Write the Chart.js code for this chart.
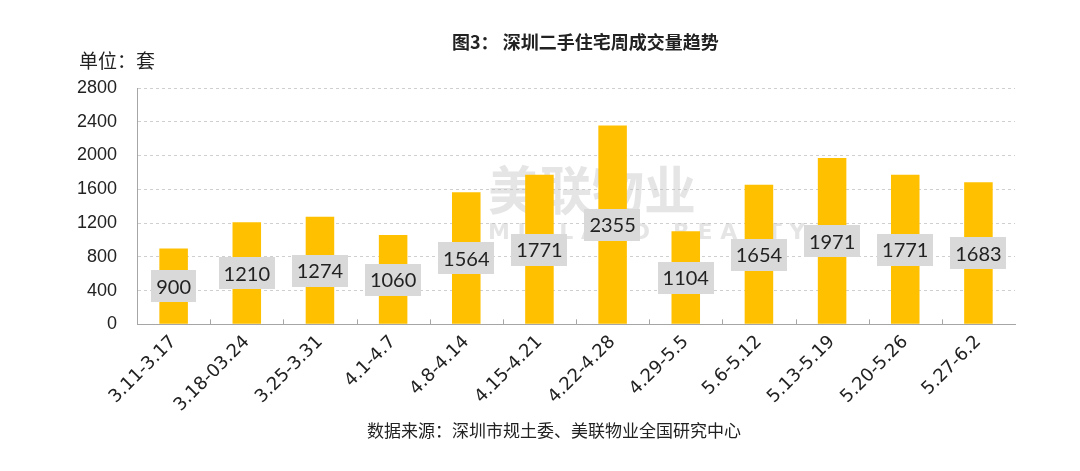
<!DOCTYPE html>
<html><head><meta charset="utf-8">
<script src="https://cdn.jsdelivr.net/npm/chart.js@4/dist/chart.umd.min.js"></script>
<style>
html,body{margin:0;padding:0;background:#fff;width:1080px;height:471px;overflow:hidden;}
#wrap{position:absolute;left:0;top:0;width:1080px;height:471px;}
.t{position:absolute;font-family:"Noto Sans CJK SC",sans-serif;color:#222;white-space:nowrap;}
#title{left:452px;top:28px;font-size:18px;font-weight:bold;}
#unit{left:79px;top:46px;font-size:19px;}
#src{left:367px;top:417px;font-size:17px;}
</style></head><body>
<div id="wrap"><canvas id="c" width="1080" height="471"></canvas></div>
<div class="t" id="title">图3： 深圳二手住宅周成交量趋势</div>
<div class="t" id="unit">单位：套</div>
<div class="t" id="src">数据来源：深圳市规土委、美联物业全国研究中心</div>
<script>
const categories = ["3.11-3.17","3.18-03.24","3.25-3.31","4.1-4.7","4.8-4.14","4.15-4.21","4.22-4.28","4.29-5.5","5.6-5.12","5.13-5.19","5.20-5.26","5.27-6.2"];
const volumes = [900,1210,1274,1060,1564,1771,2355,1104,1654,1971,1771,1683];
const yTicks = [0,400,800,1200,1600,2000,2400,2800];

const watermark = {
  id:'watermark',
  beforeDatasetsDraw(chart){
    const ctx = chart.ctx;
    ctx.save();
    ctx.fillStyle = 'rgba(190,190,190,0.4)';
    ctx.font = 'bold 52px "Noto Sans CJK SC"';
    ctx.textBaseline = 'middle';
    ctx.textAlign = 'left';
    ctx.fillText('美联物业', 488, 190);
    ctx.font = 'bold 22px "DejaVu Sans"';
    ctx.fillText('M I D L A N D   R E A L T Y', 488, 233);
    ctx.restore();
  }
};
const boxLabels = {
  id:'boxLabels',
  afterDatasetsDraw(chart){
    const ctx = chart.ctx;
    const meta = chart.getDatasetMeta(0);
    const ys = chart.scales.y;
    ctx.save();
    ctx.font = '20px Lato, "DejaVu Sans", sans-serif';
    ctx.textAlign = 'center';
    ctx.textBaseline = 'middle';
    meta.data.forEach((bar,i)=>{
      const v = volumes[i];
      const yc = ys.getPixelForValue(v/2);
      const txt = String(v);
      const w = ctx.measureText(txt).width + 10;
      const h = 32;
      ctx.fillStyle = '#d9d9d9';
      ctx.fillRect(Math.round(bar.x - w/2), Math.round(yc - h/2), Math.round(w), h);
      ctx.fillStyle = '#222';
      ctx.fillText(txt, bar.x, yc+1);
    });
    ctx.restore();
  }
};
const xTicksUp = {
  id:'xTicksUp',
  afterDraw(chart){
    const xs = chart.scales.x, ys = chart.scales.y;
    const ctx = chart.ctx;
    const y0 = ys.getPixelForValue(0);
    ctx.save();
    ctx.strokeStyle = '#a6a6a6';
    ctx.lineWidth = 1;
    for(let i=1;i<categories.length;i++){
      const x = Math.round((xs.getPixelForValue(i-1)+xs.getPixelForValue(i))/2)+0.5;
      ctx.beginPath(); ctx.moveTo(x,y0); ctx.lineTo(x,y0-5); ctx.stroke();
    }
    ctx.restore();
  }
};
const solidYAxis = {
  id:'solidYAxis',
  afterDraw(chart){
    const ys = chart.scales.y, ctx = chart.ctx;
    const x = Math.round(ys.right)+0.5;
    ctx.save();
    ctx.strokeStyle = '#a6a6a6'; ctx.lineWidth = 1; ctx.setLineDash([]);
    ctx.beginPath(); ctx.moveTo(x, ys.top); ctx.lineTo(x, ys.bottom); ctx.stroke();
    ctx.restore();
  }
};

new Chart(document.getElementById('c'),{
  type:'bar',
  data:{labels:categories,datasets:[{data:volumes,backgroundColor:'#FFC000',barPercentage:0.39,categoryPercentage:1}]},
  options:{
    responsive:false,animation:false,
    layout:{padding:{left:57,right:65,top:88,bottom:48}},
    plugins:{legend:{display:false},tooltip:{enabled:false},title:{display:false}},
    scales:{
      x:{
        grid:{display:false,drawTicks:false},
        border:{color:'#a6a6a6'},
        ticks:{maxRotation:45,minRotation:45,color:'#222',padding:7,labelOffset:0,font:{family:'"DejaVu Sans", sans-serif',size:18}}
      },
      y:{
        min:0,max:2800,
        afterBuildTicks(s){s.ticks = yTicks.map(v=>({value:v}));},
        grid:{color:'#cfcfcf',drawTicks:false},
        border:{color:'#a6a6a6',dash:[3,3]},
        ticks:{color:'#222',padding:20,callback:(v)=>String(v),font:{family:'"Liberation Sans Narrow","Liberation Sans",sans-serif',size:18}}
      }
    }
  },
  plugins:[watermark,boxLabels,xTicksUp,solidYAxis]
});
</script>
</body></html>
